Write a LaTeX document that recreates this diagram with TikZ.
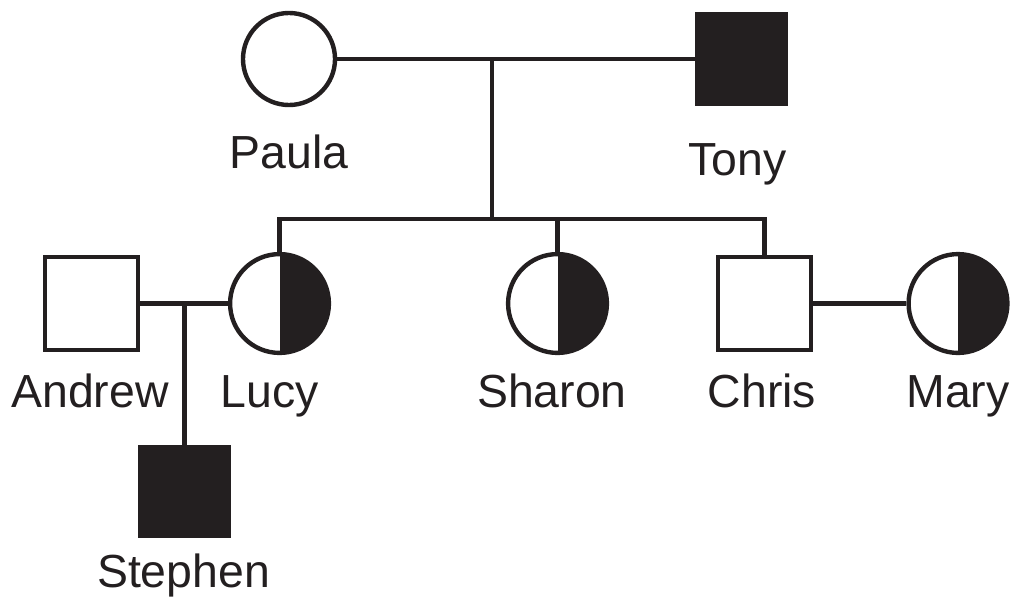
\documentclass[tikz,border=0pt]{standalone}
\usepackage{fontspec}
\setmainfont{Liberation Sans}
\definecolor{ink}{HTML}{231F20}
\tikzset{
    pedline/.style={draw=ink, line width=0.11cm},
    male/.style={rectangle, pedline, fill=white, minimum size=2.325cm, inner sep=0pt},
    female/.style={circle, pedline, fill=white, minimum size=2.3cm, inner sep=0pt},
    affected/.style={fill=ink, minimum size=2.22cm},
    carrier/.style={female, minimum size=2.47cm, path picture={\fill[ink] (path picture bounding box.north) rectangle (path picture bounding box.south east);}},
    personname/.style={anchor=base, text=ink, inner sep=0pt, font=\fontsize{33}{40}\selectfont}
}
\begin{document}
\begin{tikzpicture}[x=0.025cm, y=-0.025cm]
    \useasboundingbox (0,0) rectangle (1011,599);

    % parents
    \node[female] (paula) at (289,59) {};
    \node[male, affected] (tony) at (741.5,59) {};
    \node[personname] (paulaT) at (289,168) {Paula};
    \node[personname] (tonyT) at (737.5,175) {Tony};

    % children and partners
    \node[male] (andrew) at (91.5,303.5) {};
    \node[carrier] (lucy) at (279.5,303.5) {};
    \node[carrier] (sharon) at (557.5,303.5) {};
    \node[male] (chris) at (764.5,303.5) {};
    \node[carrier] (mary) at (958,303.5) {};
    \node[male, affected] (stephen) at (184.5,491.5) {};

    \node[personname] (andrewT) at (90,407) {Andrew};
    \node[personname] (lucyT) at (270,407) {Lucy};
    \node[personname] (sharonT) at (552,407) {Sharon};
    \node[personname] (chrisT) at (762,407) {Chris};
    \node[personname] (maryT) at (958,407) {Mary};
    \node[personname] (stephenT) at (183.5,587) {Stephen};

    \coordinate (pt) at (492,59);
    \coordinate (sib) at (492,219);
    \coordinate (al) at (184.5,303.5);

    \draw[pedline] (paula.east) -- (tony.west);
    \draw[pedline] (pt) -- (sib);
    \draw[pedline] (lucy.north) |- (sib) -| (chris.north);
    \draw[pedline] (sharon.north) -- (sharon.north |- sib);
    \draw[pedline] (andrew.east) -- (lucy.west);
    \draw[pedline] (al) -- (stephen.north);
    \draw[pedline] (chris.east) -- (mary.west);
\end{tikzpicture}
\end{document}
